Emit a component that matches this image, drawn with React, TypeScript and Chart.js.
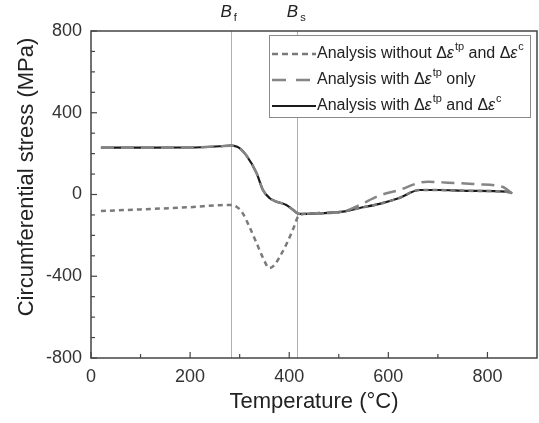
import React, { useEffect, useRef } from "react";
import { Chart, registerables } from "chart.js";

Chart.register(...registerables);

// ---- data ----
const tempWithout = [20, 100, 200, 260, 280, 295, 306, 320, 334, 347, 360, 370, 381, 395, 407, 421, 460, 508, 542, 582, 622, 663, 700, 760, 837, 850];
const stressWithout = [-81, -73, -62, -52, -51, -62, -91, -160, -237, -310, -360, -345, -304, -240, -174, -100, -92, -84, -66, -46, -17, 22, 22, 18, 14, 7];

const tempTpOnly = [20, 100, 200, 260, 280, 295, 313, 334, 347, 360, 372, 381, 394, 405, 421, 460, 508, 542, 582, 622, 663, 680, 720, 780, 830, 850];
const stressTpOnly = [229, 229, 230, 236, 239, 234, 193, 105, 22, -17, -33, -40, -51, -70, -95, -90, -84, -51, -5, 22, 58, 62, 58, 50, 38, 5];

const tempBoth = [20, 100, 200, 260, 280, 295, 313, 334, 347, 360, 372, 381, 394, 405, 421, 460, 508, 542, 582, 622, 663, 700, 760, 837, 850];
const stressBoth = [229, 229, 230, 236, 239, 234, 193, 105, 22, -17, -33, -40, -51, -70, -95, -92, -84, -66, -46, -17, 22, 22, 18, 14, 7];

const xTicks = [0, 200, 400, 600, 800];
const yTicks = [-800, -400, 0, 400, 800];
const markerTemps = [282, 416];
const markerLabels = ["f", "s"];

const FONT = "'Liberation Sans', Arial, sans-serif";

const toPts = (xs: number[], ys: number[]) => xs.map((x, i) => ({ x, y: ys[i] }));

type Seg = { t: string; style?: "it" | "sup" };
const legendRows: { dash: number[]; color: string; width: number; segs: Seg[] }[] = [
  {
    dash: [6, 4],
    color: "#7a7a7a",
    width: 2.5,
    segs: [{ t: "Analysis without " }, { t: "Δ" }, { t: "ε", style: "it" }, { t: "tp", style: "sup" }, { t: " and " }, { t: "Δ" }, { t: "ε", style: "it" }, { t: "c", style: "sup" }],
  },
  {
    dash: [14, 10],
    color: "#858585",
    width: 2.5,
    segs: [{ t: "Analysis with " }, { t: "Δ" }, { t: "ε", style: "it" }, { t: "tp", style: "sup" }, { t: " only" }],
  },
  {
    dash: [],
    color: "#1a1a1a",
    width: 2.2,
    segs: [{ t: "Analysis with " }, { t: "Δ" }, { t: "ε", style: "it" }, { t: "tp", style: "sup" }, { t: " and " }, { t: "Δ" }, { t: "ε", style: "it" }, { t: "c", style: "sup" }],
  },
];

const decorPlugin = {
  id: "decor",
  beforeDatasetsDraw(chart: any) {
    const { ctx, chartArea: a, scales } = chart;
    ctx.save();
    ctx.strokeStyle = "#b0b0b0";
    ctx.lineWidth = 1;
    markerTemps.forEach((t) => {
      const px = Math.round(scales.x.getPixelForValue(t)) + 0.5;
      ctx.beginPath();
      ctx.moveTo(px, a.top);
      ctx.lineTo(px, a.bottom);
      ctx.stroke();
    });
    ctx.restore();
  },
  afterDraw(chart: any) {
    const { ctx, chartArea: a, scales } = chart;
    ctx.save();
    // frame
    ctx.strokeStyle = "#444";
    ctx.lineWidth = 1.5;
    ctx.strokeRect(a.left, a.top, a.right - a.left, a.bottom - a.top);
    // ticks
    ctx.lineWidth = 1.2;
    for (let v = -800; v <= 800; v += 100) {
      const py = scales.y.getPixelForValue(v);
      const len = v % 400 === 0 ? 6 : 4;
      ctx.beginPath();
      ctx.moveTo(a.left, py);
      ctx.lineTo(a.left + len, py);
      ctx.stroke();
    }
    for (let v = 0; v <= 800; v += 100) {
      const px = scales.x.getPixelForValue(v);
      const len = v % 200 === 0 ? 6 : 4;
      ctx.beginPath();
      ctx.moveTo(px, a.bottom);
      ctx.lineTo(px, a.bottom - len);
      ctx.stroke();
    }
    // axis titles
    ctx.fillStyle = "#222";
    ctx.font = `22px ${FONT}`;
    ctx.textAlign = "center";
    ctx.textBaseline = "alphabetic";
    ctx.fillText("Temperature (°C)", (a.left + a.right) / 2, 408);
    ctx.save();
    ctx.translate(33, 177);
    ctx.rotate(-Math.PI / 2);
    ctx.fillText("Circumferential stress (MPa)", 0, 0);
    ctx.restore();
    // B labels
    markerTemps.forEach((t, i) => {
      const px = scales.x.getPixelForValue(t);
      ctx.font = `italic 17px ${FONT}`;
      ctx.textAlign = "right";
      ctx.fillText("B", px + 1, 17);
      ctx.font = `11px ${FONT}`;
      ctx.textAlign = "left";
      ctx.fillText(markerLabels[i], px + 3, 21);
    });
    // legend
    const bx = 269, by = 35, bw = 261, bh = 82;
    ctx.fillStyle = "#fff";
    ctx.fillRect(bx, by, bw, bh);
    ctx.strokeStyle = "#8a8a8a";
    ctx.lineWidth = 1;
    ctx.strokeRect(bx + 0.5, by + 0.5, bw, bh);
    const rowY = [54, 80, 106];
    legendRows.forEach((row, i) => {
      const y = rowY[i];
      ctx.save();
      ctx.strokeStyle = row.color;
      ctx.lineWidth = row.width;
      ctx.setLineDash(row.dash);
      ctx.beginPath();
      ctx.moveTo(272, y);
      ctx.lineTo(316, y);
      ctx.stroke();
      ctx.restore();
      let x = 317;
      ctx.fillStyle = "#222";
      ctx.textAlign = "left";
      ctx.textBaseline = "middle";
      row.segs.forEach((s) => {
        let dy = 0;
        if (s.style === "it") ctx.font = `italic 16px ${FONT}`;
        else if (s.style === "sup") {
          ctx.font = `11px ${FONT}`;
          dy = -7;
        } else ctx.font = `16px ${FONT}`;
        ctx.fillText(s.t, x, y + dy);
        x += ctx.measureText(s.t).width + (s.style === "it" ? 1 : 0);
      });
    });
    ctx.restore();
  },
};

export default function App() {
  const ref = useRef<HTMLCanvasElement>(null);
  useEffect(() => {
    document.body.style.margin = "0";
    const canvas = ref.current!;
    const chart = new Chart(canvas, {
      type: "line",
      data: {
        datasets: [
          {
            label: "Analysis without Δεtp and Δεc",
            data: toPts(tempWithout, stressWithout),
            borderColor: "#7a7a7a",
            borderWidth: 2.5,
            borderDash: [5, 4],
            pointRadius: 0,
            cubicInterpolationMode: "monotone",
            order: 1,
          },
          {
            label: "Analysis with Δεtp only",
            data: toPts(tempTpOnly, stressTpOnly),
            borderColor: "#858585",
            borderWidth: 2.5,
            borderDash: [13, 7],
            pointRadius: 0,
            cubicInterpolationMode: "monotone",
            order: 2,
          },
          {
            label: "Analysis with Δεtp and Δεc",
            data: toPts(tempBoth, stressBoth),
            borderColor: "#1a1a1a",
            borderWidth: 2.2,
            pointRadius: 0,
            cubicInterpolationMode: "monotone",
            order: 3,
          },
        ],
      },
      options: {
        responsive: false,
        animation: false,
        layout: { padding: { top: 31, right: 2, left: 0, bottom: 0 } },
        plugins: { legend: { display: false }, tooltip: { enabled: false } },
        scales: {
          x: {
            type: "linear",
            min: 0,
            max: 900,
            grid: { display: false, drawTicks: false },
            border: { display: false },
            ticks: { stepSize: 200, includeBounds: false, padding: 8, color: "#333", font: { family: FONT, size: 18 } },
            afterBuildTicks: (s: any) => {
              s.ticks = xTicks.map((v) => ({ value: v }));
            },
            afterFit: (s: any) => {
              s.height = 65;
            },
          },
          y: {
            type: "linear",
            min: -800,
            max: 800,
            grid: { display: false, drawTicks: false },
            border: { display: false },
            ticks: { stepSize: 400, padding: 9, color: "#333", font: { family: FONT, size: 18 } },
            afterBuildTicks: (s: any) => {
              s.ticks = yTicks.map((v) => ({ value: v }));
            },
            afterFit: (s: any) => {
              s.width = 91;
            },
          },
        },
      } as any,
      plugins: [decorPlugin],
    });
    return () => chart.destroy();
  }, []);
  return (
    <div style={{ width: 539, height: 423 }}>
      <canvas ref={ref} width={539} height={423} style={{ display: "block" }} />
    </div>
  );
}
